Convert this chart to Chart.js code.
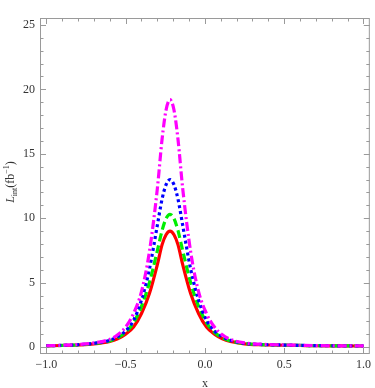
<!DOCTYPE html>
<html>
<head>
<meta charset="utf-8">
<script src="https://cdn.jsdelivr.net/npm/chart.js@4/dist/chart.umd.min.js"></script>
<style>
  html, body { margin: 0; padding: 0; background: #fff; }
  #wrap { width: 375px; height: 388px; }
</style>
</head>
<body>
<div id="wrap"><canvas id="lint-chart" width="375" height="388"></canvas></div>
<script>
var xValues = [-1.0, -0.9, -0.8, -0.7, -0.6, -0.55, -0.5, -0.45, -0.4, -0.35, -0.3, -0.27, -0.245, -0.22,
  -0.195, -0.17, -0.14, -0.09, -0.04, 0.01, 0.06, 0.11, 0.16, 0.25, 0.35, 0.5, 0.6, 0.7, 0.8, 0.9, 1.0];

var redValues = [0.09, 0.12, 0.16, 0.24, 0.44, 0.65, 1.0, 1.55, 2.6, 4.15, 6.4, 7.95, 8.72, 9.0,
  8.72, 7.95, 6.4, 4.15, 2.6, 1.55, 1.0, 0.65, 0.44, 0.25, 0.18, 0.14, 0.12, 0.1, 0.09, 0.085, 0.08];
var greenValues = [0.095, 0.125, 0.17, 0.27, 0.48, 0.72, 1.15, 1.9, 3.16, 5.0, 7.48, 9.05, 9.97, 10.3,
  9.97, 9.05, 7.48, 5.0, 3.16, 1.9, 1.15, 0.72, 0.48, 0.27, 0.19, 0.15, 0.125, 0.105, 0.095, 0.088, 0.082];
var blueValues = [0.1, 0.13, 0.18, 0.29, 0.53, 0.8, 1.25, 2.07, 3.65, 6.05, 9.45, 11.5, 12.6, 13.0,
  12.6, 11.5, 9.45, 6.05, 3.65, 2.07, 1.25, 0.8, 0.53, 0.29, 0.2, 0.155, 0.13, 0.11, 0.1, 0.09, 0.085];
var magentaValues = [0.1, 0.14, 0.2, 0.32, 0.6, 0.95, 1.55, 2.6, 4.3, 7.4, 12.3, 16.15, 18.4, 19.2,
  18.4, 16.15, 12.3, 7.4, 4.3, 2.6, 1.55, 0.95, 0.6, 0.32, 0.22, 0.165, 0.135, 0.115, 0.1, 0.092, 0.087];

var xTickValues = [-1.0, -0.5, 0.0, 0.5, 1.0];
var yTickValues = [0, 5, 10, 15, 20, 25];

var serif = "'Liberation Serif', 'DejaVu Serif', serif";
var frameColor = '#9a9a9a';

function toPoints(xs, ys) {
  var pts = [];
  for (let i = 0; i < xs.length; i++) {
    pts.push({ x: xs[i], y: ys[i] });
  }
  return pts;
}

function fmtX(v) {
  if (Math.abs(v) < 1e-9) return '0.0';
  return (v < 0 ? '\u2212' : '') + Math.abs(v).toFixed(1);
}

// Mathematica-like frame with inward ticks on all four sides
var frameTicks = {
  id: 'frameTicks',
  beforeDatasetsDraw(chart) {
    const ctx = chart.ctx;
    const a = chart.chartArea;
    const xs = chart.scales.x;
    const ys = chart.scales.y;
    ctx.save();
    ctx.strokeStyle = frameColor;
    ctx.lineWidth = 1;
    ctx.strokeRect(a.left + 0.5, a.top + 0.5, a.right - a.left - 1, a.bottom - a.top - 1);
    ctx.beginPath();
    for (let i = -10; i <= 10; i++) {
      let v = i / 10;
      let len = (i % 5 === 0) ? 6 : 3.5;
      let px = Math.round(xs.getPixelForValue(v)) + 0.5;
      ctx.moveTo(px, a.bottom);
      ctx.lineTo(px, a.bottom - len);
      ctx.moveTo(px, a.top);
      ctx.lineTo(px, a.top + len);
    }
    for (let j = 0; j <= 25; j++) {
      let len = (j % 5 === 0) ? 6 : 3.5;
      let py = Math.round(ys.getPixelForValue(j)) + 0.5;
      ctx.moveTo(a.left, py);
      ctx.lineTo(a.left + len, py);
      ctx.moveTo(a.right, py);
      ctx.lineTo(a.right - len, py);
    }
    ctx.stroke();
    ctx.restore();
  },
  afterDraw(chart) {
    // rotated y title: L_int (fb^-1)
    const ctx = chart.ctx;
    const parts = [
      { t: 'L', font: 'italic 12px ' + serif, dy: 0 },
      { t: 'int', font: '8px ' + serif, dy: 3 },
      { t: '(fb', font: '12px ' + serif, dy: 0 },
      { t: '\u22121', font: '8px ' + serif, dy: -5 },
      { t: ')', font: '12px ' + serif, dy: 0 }
    ];
    ctx.save();
    ctx.translate(10, 182);
    ctx.rotate(-Math.PI / 2);
    ctx.fillStyle = '#333';
    ctx.textBaseline = 'alphabetic';
    ctx.textAlign = 'left';
    let total = 0;
    for (const p of parts) {
      ctx.font = p.font;
      p.w = ctx.measureText(p.t).width;
      total += p.w;
    }
    let x = -total / 2;
    for (const p of parts) {
      ctx.font = p.font;
      ctx.fillText(p.t, x, 4 + p.dy);
      x += p.w;
    }
    ctx.restore();
  }
};

function lineSet(label, values, color, dash, order) {
  return {
    label: label,
    data: toPoints(xValues, values),
    borderColor: color,
    borderWidth: 3.2,
    borderDash: dash,
    pointRadius: 0,
    fill: false,
    cubicInterpolationMode: 'monotone',
    order: order
  };
}

const ctx = document.getElementById('lint-chart');

new Chart(ctx, {
  type: 'line',
  data: {
    datasets: [
      lineSet('magenta', magentaValues, '#ff00ff', [9, 3, 2, 3], 0),
      lineSet('blue', blueValues, '#0000ff', [3, 3], 1),
      lineSet('green', greenValues, '#00ee00', [8, 4], 2),
      lineSet('red', redValues, '#ff0000', [], 3)
    ]
  },
  options: {
    responsive: false,
    animation: false,
    layout: { padding: { top: 18, right: 1, left: 0, bottom: 0 } },
    scales: {
      x: {
        type: 'linear',
        min: -1.04,
        max: 1.04,
        grid: { display: false, drawTicks: false },
        border: { display: false },
        afterBuildTicks: function (scale) {
          scale.ticks = xTickValues.map(v => ({ value: v }));
        },
        afterFit: function (scale) { scale.height = 34; },
        ticks: {
          padding: 4,
          color: '#333',
          font: { family: serif, size: 12 },
          maxRotation: 0,
          autoSkip: false,
          callback: fmtX
        },
        title: {
          display: true,
          text: 'x',
          color: '#333',
          font: { family: serif, size: 12 },
          padding: { top: 0, bottom: -3 }
        }
      },
      y: {
        type: 'linear',
        min: -0.54,
        max: 25.54,
        grid: { display: false, drawTicks: false },
        border: { display: false },
        afterBuildTicks: function (scale) {
          scale.ticks = yTickValues.map(v => ({ value: v }));
        },
        afterFit: function (scale) { scale.width = 40; },
        ticks: {
          padding: 5,
          color: '#333',
          font: { family: serif, size: 12 },
          autoSkip: false
        }
      }
    },
    plugins: {
      legend: { display: false },
      tooltip: { enabled: false }
    }
  },
  plugins: [frameTicks]
});
</script>
</body>
</html>
